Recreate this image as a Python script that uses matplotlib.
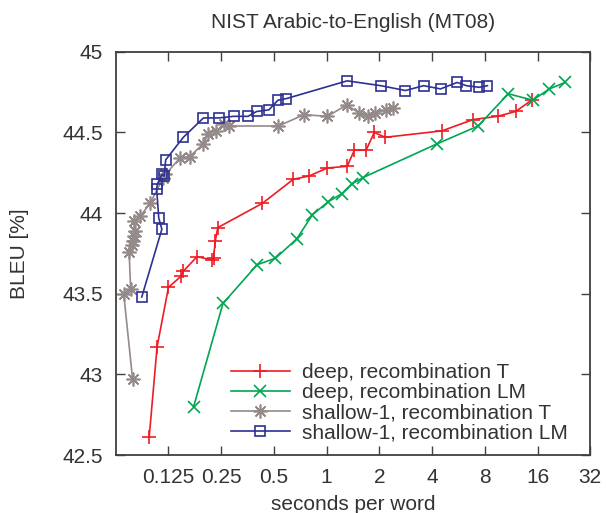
import numpy as np
import matplotlib
matplotlib.use("Agg")
import matplotlib.pyplot as plt
from matplotlib.ticker import FixedLocator, FuncFormatter, NullLocator

plt.rcParams['font.family'] = ['Liberation Sans', 'DejaVu Sans']

# deep, recombination T
deep_t_x = [0.097, 0.1076, 0.125, 0.148, 0.152, 0.182, 0.221, 0.226, 0.2316, 0.239,
            0.429, 0.646, 0.794, 1.01, 1.31, 1.44, 1.68, 1.87, 2.16, 4.56,
            6.86, 9.46, 12.0, 14.8]
deep_t_y = [42.61, 43.17, 43.54, 43.61, 43.64, 43.73, 43.71, 43.72, 43.83, 43.91,
            44.06, 44.21, 44.23, 44.28, 44.29, 44.39, 44.39, 44.50, 44.47, 44.51,
            44.58, 44.60, 44.63, 44.70]

# deep, recombination LM
deep_lm_x = [0.174, 0.256, 0.401, 0.51, 0.675, 0.83, 1.02, 1.22, 1.39, 1.61,
             4.28, 7.33, 10.9, 15.0, 18.7, 23.0]
deep_lm_y = [42.80, 43.44, 43.68, 43.72, 43.84, 43.99, 44.07, 44.12, 44.18, 44.22,
             44.43, 44.54, 44.74, 44.70, 44.77, 44.81]

# shallow-1, recombination T
sh_t_x = [0.078, 0.0694, 0.076, 0.0745, 0.077, 0.0787, 0.079, 0.0805, 0.079, 0.0862,
          0.098, 0.117, 0.12, 0.145, 0.165, 0.198, 0.21, 0.234, 0.259, 0.276,
          0.53, 0.743, 1.01, 1.30, 1.54, 1.73, 1.89, 2.19, 2.39]
sh_t_y = [42.97, 43.50, 43.53, 43.76, 43.80, 43.83, 43.86, 43.89, 43.95, 43.98,
          44.06, 44.22, 44.24, 44.34, 44.35, 44.43, 44.49, 44.51, 44.55, 44.54,
          44.54, 44.61, 44.60, 44.67, 44.62, 44.60, 44.62, 44.64, 44.65]

# shallow-1, recombination LM
sh_lm_x = [0.088, 0.1146, 0.110, 0.107, 0.108, 0.1146, 0.118, 0.1205, 0.152, 0.198,
           0.242, 0.295, 0.356, 0.398, 0.468, 0.527, 0.589, 1.31, 2.04, 2.82,
           3.58, 4.47, 5.56, 6.28, 7.43, 8.28]
sh_lm_y = [43.48, 43.90, 43.97, 44.15, 44.18, 44.24, 44.23, 44.33, 44.47, 44.59,
           44.59, 44.60, 44.60, 44.63, 44.64, 44.70, 44.71, 44.82, 44.79, 44.76,
           44.79, 44.77, 44.81, 44.79, 44.78, 44.79]

x_ticks = [0.125, 0.25, 0.5, 1, 2, 4, 8, 16, 32]
y_ticks = [42.5, 43, 43.5, 44, 44.5, 45]

text_col = '#333333'
frame_col = '#404040'
fs = 15

fig = plt.figure(figsize=(6.06, 5.13), dpi=100)
ax = fig.add_axes([0.191, 0.113, 0.783, 0.786])

ax.plot(deep_t_x, deep_t_y, color='#ee1c24', lw=1.2, marker='+', ms=10, mew=1.2,
        label='deep, recombination T')
ax.plot(deep_lm_x, deep_lm_y, color='#00a651', lw=1.2, marker='x', ms=8, mew=1.2,
        label='deep, recombination LM')
ax.plot(sh_t_x, sh_t_y, color='#948a89', lw=1.2, marker=(8, 2, 0), ms=10, mew=1.2,
        label='shallow-1, recombination T')
ax.plot(sh_lm_x, sh_lm_y, color='#2e3192', lw=1.2, marker='s', ms=7, mew=1.2,
        mfc='none', label='shallow-1, recombination LM')

ax.set_xscale('log', base=2)
ax.set_xlim(0.0625, 32)
ax.set_ylim(42.5, 45)
ax.xaxis.set_major_locator(FixedLocator(x_ticks))
ax.xaxis.set_minor_locator(NullLocator())
ax.xaxis.set_major_formatter(FuncFormatter(lambda v, p: '%g' % v))
ax.yaxis.set_major_locator(FixedLocator(y_ticks))
ax.yaxis.set_major_formatter(FuncFormatter(lambda v, p: '%g' % v))

ax.tick_params(direction='in', length=6.5, width=1.0, color=frame_col,
               labelsize=fs, labelcolor=text_col, top=True, right=True, pad=9)
for s in ax.spines.values():
    s.set_color(frame_col)
    s.set_linewidth(1.3)

ax.set_title('NIST Arabic-to-English (MT08)', fontsize=fs, color=text_col, pad=17)
ax.set_xlabel('seconds per word', fontsize=fs, color=text_col, labelpad=6)
ax.set_ylabel('BLEU [%]', fontsize=fs, color=text_col, labelpad=24)

leg = ax.legend(loc='lower right', frameon=False, fontsize=fs, handlelength=2.85,
                handletextpad=0.6, labelspacing=0.05, borderaxespad=0.2,
                bbox_to_anchor=(0.98, 0.0))
for t in leg.get_texts():
    t.set_color(text_col)

fig.savefig('out.png', dpi=100)
